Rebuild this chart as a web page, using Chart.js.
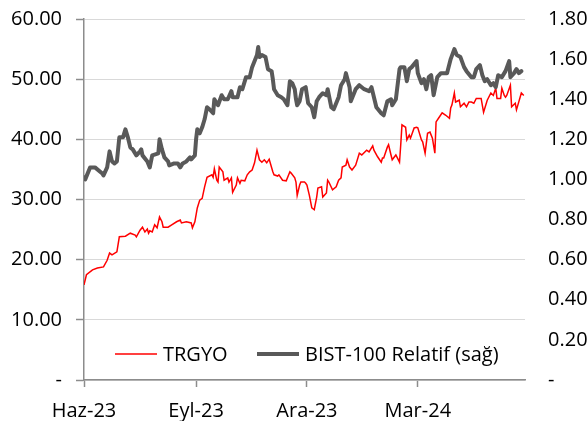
<!DOCTYPE html>
<html>
<head>
<meta charset="utf-8">
<script src="https://cdn.jsdelivr.net/npm/chart.js@4.4.1/dist/chart.umd.min.js"></script>
<style>
  html, body { margin: 0; padding: 0; background: #fff; }
  #wrap { width: 588px; height: 421px; position: relative; }
</style>
</head>
<body>
<div id="wrap"><canvas id="chart"></canvas></div>
<script>
// x values are days counted from 1 Jun 2023
const tickDays = [0, 92, 183, 274];
const tickLabels = ['Haz-23', 'Eyl-23', 'Ara-23', 'Mar-24'];

const trgyoDays = [0,2,7,11,16,19,21,23,27,29,34,38,42,43,46,48,50,52,53,54,56,58,60,62,64,65,69,72,76,79,80,84,88,89,91,93,95,97,99,101,105,106,107,109,110,111,114,115,118,119,121,122,125,126,128,129,132,134,136,138,140,142,144,146,148,150,152,155,156,159,160,163,166,169,170,173,174,175,177,178,181,182,183,185,187,189,191,192,195,196,199,200,201,204,207,209,211,212,215,216,218,220,223,226,228,232,234,237,238,241,244,245,246,249,250,252,253,256,259,260,261,264,265,267,268,271,273,274,277,278,280,282,284,286,288,289,291,294,297,300,301,302,304,305,308,309,312,314,316,318,320,322,326,328,331,334,336,338,339,342,343,345,346,347,350,351,354,355,358,359,361];
const trgyoValues = [15.8,17.5,18.3,18.6,18.8,19.9,21.1,20.8,21.3,23.8,23.9,24.4,24.1,23.8,24.9,25.4,24.6,25.1,24.4,24.8,24.6,25.8,25.3,27.1,26.3,25.4,25.4,25.8,26.3,26.6,26.1,26.3,26.1,25.3,26.3,28.6,29.9,30.2,32.1,33.7,34.1,33.7,35.1,33.2,32.9,35.4,34.6,33.2,33.6,32.9,33.6,31.2,32.4,33.6,32.7,33.2,33.1,34.1,34.6,34.9,36.1,38.2,36.6,36.2,36.6,36.1,36.7,34.6,34.1,33.9,34.1,33.2,33.1,34.6,34.4,33.6,32.9,30.7,32.4,32.9,32.9,32.7,32.4,30.7,28.6,28.3,30.4,31.9,32.1,30.4,31.1,33.2,32.9,31.6,32.1,33.2,33.6,35.4,35.7,36.6,35.4,34.9,35.7,37.7,37.4,38.2,37.9,38.9,38.2,37.1,36.2,36.9,36.9,38.7,39.1,37.4,36.6,37.4,36.2,39.1,42.4,42.0,39.9,40.7,40.2,41.9,42.0,41.9,39.9,39.6,37.7,41.0,41.2,40.2,37.7,42.9,43.5,44.4,44.0,43.5,45.2,45.7,47.7,46.2,46.5,45.4,46.0,45.4,46.2,46.2,46.0,46.8,46.8,44.5,46.5,47.7,47.3,48.5,46.8,46.8,48.5,47.3,47.0,47.3,49.0,45.4,46.0,44.9,47.0,47.7,47.3];

const bistDays = [0,1,5,9,15,16,19,21,23,25,27,29,32,34,36,38,40,43,46,47,48,52,54,56,61,62,64,66,69,70,74,77,79,81,84,87,88,91,92,93,95,97,99,101,103,106,107,110,113,115,118,121,122,126,128,130,133,136,138,142,143,144,146,149,151,154,155,156,159,162,164,167,169,171,173,174,175,177,179,182,184,187,189,191,193,196,199,200,203,205,209,211,214,215,218,219,223,226,230,234,236,240,244,246,249,252,253,256,259,260,263,265,267,269,273,274,277,279,281,283,285,287,290,293,295,298,301,304,306,309,312,314,318,320,322,325,327,329,331,334,336,338,340,343,346,349,350,353,355,357,359];
const bistValues = [1.01,1.00,1.06,1.06,1.03,1.02,1.06,1.14,1.09,1.08,1.09,1.21,1.21,1.25,1.21,1.16,1.15,1.12,1.14,1.15,1.12,1.09,1.06,1.12,1.13,1.20,1.15,1.11,1.09,1.07,1.08,1.08,1.06,1.08,1.09,1.11,1.10,1.12,1.20,1.25,1.23,1.26,1.30,1.36,1.35,1.33,1.40,1.37,1.42,1.40,1.40,1.44,1.41,1.41,1.46,1.45,1.51,1.51,1.56,1.62,1.66,1.61,1.62,1.61,1.55,1.54,1.50,1.45,1.42,1.41,1.40,1.37,1.49,1.48,1.45,1.40,1.37,1.39,1.45,1.46,1.38,1.36,1.31,1.39,1.41,1.43,1.42,1.45,1.36,1.35,1.41,1.47,1.50,1.53,1.46,1.39,1.45,1.47,1.45,1.44,1.46,1.36,1.33,1.32,1.39,1.40,1.37,1.40,1.55,1.56,1.56,1.49,1.55,1.56,1.59,1.53,1.48,1.50,1.45,1.51,1.52,1.42,1.51,1.53,1.53,1.53,1.60,1.65,1.62,1.61,1.56,1.54,1.51,1.51,1.55,1.57,1.52,1.49,1.50,1.47,1.48,1.46,1.52,1.51,1.54,1.59,1.51,1.53,1.55,1.53,1.54];

const axisColor = '#8c8c8c';
const gridColor = '#d9d9d9';
const font = { family: "'Open Sans', sans-serif", size: 20 };

const fmt = v => (v === 0 ? '-' : v.toFixed(2));

// y axes: fixed width, and drop the extra top/bottom room chart.js reserves for labels
const fixWidth = w => s => {
  s.width = w;
  s.paddingTop = 0;
  s.paddingBottom = 0;
};

// legend drawn inside the plot, along its bottom edge
const insideLegend = {
  id: 'insideLegend',
  afterDatasetsDraw(chart) {
    const { ctx, chartArea } = chart;
    const y = chartArea.bottom - 26;
    const starts = [chartArea.left + 31, chartArea.left + 173];
    ctx.save();
    ctx.font = `${font.size}px ${font.family}`;
    ctx.textBaseline = 'middle';
    chart.data.datasets.forEach((ds, i) => {
      const x = starts[i];
      ctx.strokeStyle = ds.borderColor;
      ctx.lineWidth = ds.borderWidth;
      ctx.beginPath();
      ctx.moveTo(x, y);
      ctx.lineTo(x + 42, y);
      ctx.stroke();
      ctx.fillStyle = '#000';
      ctx.fillText(ds.label, x + 48, y + 1);
    });
    ctx.restore();
  }
};

new Chart(document.getElementById('chart'), {
  type: 'line',
  data: {
    datasets: [
      {
        label: 'TRGYO',
        data: trgyoDays.map((d, i) => ({ x: d, y: trgyoValues[i] })),
        borderColor: '#ff0000',
        borderWidth: 1.5,
        pointRadius: 0,
        yAxisID: 'y',
        order: 2
      },
      {
        label: 'BIST-100 Relatif (sağ)',
        data: bistDays.map((d, i) => ({ x: d, y: bistValues[i] })),
        borderColor: '#595959',
        borderWidth: 4,
        borderJoinStyle: 'round',
        borderCapStyle: 'round',
        pointRadius: 0,
        yAxisID: 'y1',
        order: 1
      }
    ]
  },
  options: {
    responsive: true,
    maintainAspectRatio: false,
    animation: false,
    layout: { padding: { top: 19, left: 0, right: 0, bottom: 0 } },
    plugins: {
      legend: { display: false },
      tooltip: { enabled: false }
    },
    scales: {
      x: {
        type: 'linear',
        min: 0,
        max: 362,
        afterBuildTicks: s => { s.ticks = tickDays.map(v => ({ value: v })); },
        afterFit: s => { s.height = 41; },
        grid: { drawOnChartArea: false, tickLength: 7, tickColor: axisColor, tickWidth: 1.5 },
        border: { color: axisColor, width: 1.5 },
        ticks: {
          callback: v => tickLabels[tickDays.indexOf(v)],
          autoSkip: false,
          maxRotation: 0,
          padding: 12,
          color: '#000',
          font
        }
      },
      y: {
        position: 'left',
        min: 0,
        max: 60,
        afterFit: fixWidth(84),
        grid: { color: gridColor, lineWidth: 1, tickLength: 8, tickColor: axisColor, tickWidth: 1.5 },
        border: { color: axisColor, width: 1.5 },
        ticks: { stepSize: 10, callback: fmt, padding: 14, color: '#000', font }
      },
      y1: {
        position: 'right',
        min: 0,
        max: 1.8,
        afterFit: fixWidth(63),
        grid: { drawOnChartArea: false, drawTicks: false },
        border: { display: false },
        ticks: { stepSize: 0.2, callback: fmt, padding: 23, color: '#000', font }
      }
    }
  },
  plugins: [insideLegend]
});
</script>
</body>
</html>
